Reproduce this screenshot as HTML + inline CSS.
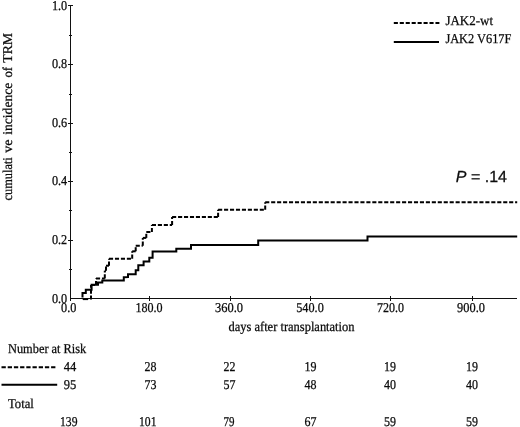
<!DOCTYPE html>
<html><head><meta charset="utf-8">
<style>
html,body{margin:0;padding:0;background:#fff;}
body{width:520px;height:427px;overflow:hidden;font-family:"Liberation Serif",serif;}
svg{display:block;will-change:transform;}
text{text-rendering:geometricPrecision;font-family:"Liberation Serif",serif;font-size:13.5px;fill:#0a0a0a;stroke:#0a0a0a;stroke-width:0.25px;}
.ax{stroke:#111;stroke-width:1;fill:none;shape-rendering:crispEdges;}
.cv{stroke:#000;stroke-width:2;fill:none;stroke-linejoin:miter;stroke-linecap:butt;}
.ds{stroke-dasharray:4.1 1.85;}
</style></head><body>
<svg width="520" height="427" viewBox="0 0 520 427">
<rect width="520" height="427" fill="#fff"/>
<!-- axes -->
<path class="ax" d="M70.5 5 V301 M70 298.5 H517"/>
<!-- y ticks major -->
<path class="ax" d="M68 5.5H73 M68 64.5H73 M68 123.5H73 M68 181.5H73 M68 240.5H73"/>
<path class="ax" d="M69 35.5H72 M69 94.5H72 M69 152.5H72 M69 210.5H72 M69 269.5H72"/>
<!-- x ticks -->
<path class="ax" d="M149.5 296V301 M230.5 296V301 M310.5 296V301 M390.5 296V301 M472.5 296V301"/>
<!-- y labels -->
<g text-anchor="end">
<text x="67.2" y="9.7" textLength="15.3" lengthAdjust="spacingAndGlyphs">1.0</text>
<text x="67.2" y="68.2" textLength="15.3" lengthAdjust="spacingAndGlyphs">0.8</text>
<text x="67.2" y="126.7" textLength="15.3" lengthAdjust="spacingAndGlyphs">0.6</text>
<text x="67.2" y="184.7" textLength="15.3" lengthAdjust="spacingAndGlyphs">0.4</text>
<text x="67.2" y="243.7" textLength="15.3" lengthAdjust="spacingAndGlyphs">0.2</text>
<text x="67.2" y="303.1" textLength="15.3" lengthAdjust="spacingAndGlyphs">0.0</text>
</g>
<!-- x labels -->
<g text-anchor="middle">
<text x="68.7" y="312.2" textLength="15.3" lengthAdjust="spacingAndGlyphs">0.0</text>
<text x="149" y="312.2" textLength="27.2" lengthAdjust="spacingAndGlyphs">180.0</text>
<text x="229" y="312.2" textLength="28" lengthAdjust="spacingAndGlyphs">360.0</text>
<text x="310" y="312.2" textLength="27.5" lengthAdjust="spacingAndGlyphs">540.0</text>
<text x="390.5" y="312.2" textLength="27" lengthAdjust="spacingAndGlyphs">720.0</text>
<text x="471" y="312.2" textLength="27.8" lengthAdjust="spacingAndGlyphs">900.0</text>
</g>
<text x="228.5" y="331" textLength="126" lengthAdjust="spacingAndGlyphs">days after transplantation</text>
<!-- y title -->
<g style="font-size:14px">
<text transform="translate(11.5 200.5) rotate(-90)" textLength="43.3" lengthAdjust="spacingAndGlyphs">cumulati</text>
<text transform="translate(11.5 152.8) rotate(-90)" textLength="13.4" lengthAdjust="spacingAndGlyphs">ve</text>
<text transform="translate(11.5 134.7) rotate(-90)" textLength="51.9" lengthAdjust="spacingAndGlyphs">incidence</text>
<text transform="translate(11.5 77.5) rotate(-90)" textLength="10.6" lengthAdjust="spacingAndGlyphs">of</text>
<text transform="translate(11.5 62.8) rotate(-90)" textLength="29.9" lengthAdjust="spacingAndGlyphs">TRM</text>
</g>
<!-- legend -->
<path class="cv ds" d="M393.8 23H439.4"/>
<path class="cv" d="M393.8 42H439"/>
<text x="445.4" y="25" textLength="47.6" lengthAdjust="spacingAndGlyphs">JAK2-wt</text>
<text x="445.4" y="43.2" textLength="66" lengthAdjust="spacingAndGlyphs">JAK2 V617F</text>
<text x="455.8" y="181.5" style="font-family:'Liberation Sans',sans-serif;font-size:16px"><tspan font-style="italic">P</tspan> = .14</text>
<!-- curves -->
<path class="cv" d="M82.7 299.3H88.2" style="stroke-width:1.6"/>
<path class="cv ds" d="M91 299.6L91 285"/>
<path class="cv ds" d="M91 285L96 285"/>
<path class="cv ds" d="M96 285L96 278.4"/>
<path class="cv ds" d="M96 278.4L104.8 278.4"/>
<path class="cv ds" d="M104.8 278.4L104.8 270.7"/>
<path class="cv ds" d="M104.8 270.7L106 270.7"/>
<path class="cv ds" d="M106 270.7L106 265.7"/>
<path class="cv ds" d="M106 265.7L109 265.7"/>
<path class="cv ds" d="M109 265.7L109 258.7"/>
<path class="cv ds" d="M109 258.7L132.2 258.7"/>
<path class="cv ds" d="M132.2 258.7L132.2 251.3"/>
<path class="cv ds" d="M132.2 251.3L135.7 251.3"/>
<path class="cv ds" d="M135.7 251.3L135.7 245.7"/>
<path class="cv ds" d="M135.7 245.7L142.8 245.7"/>
<path class="cv ds" d="M142.8 245.7L142.8 237.9"/>
<path class="cv ds" d="M142.8 237.9L146.3 237.9"/>
<path class="cv ds" d="M146.3 237.9L146.3 232"/>
<path class="cv ds" d="M146.3 232L151.9 232"/>
<path class="cv ds" d="M151.9 232L151.9 225"/>
<path class="cv ds" d="M151.9 225L172.1 225"/>
<path class="cv ds" d="M172.1 225L172.1 216.9"/>
<path class="cv ds" d="M172.1 216.9L218.1 216.9"/>
<path class="cv ds" d="M218.1 216.9L218.1 209.7"/>
<path class="cv ds" d="M218.1 209.7L265.2 209.7"/>
<path class="cv ds" d="M265.2 209.7L265.2 202.3"/>
<path class="cv ds" d="M265.2 202.3L517.2 202.3"/>
<path class="cv" d="M82.5 297.5 L82.5 293 L85.8 293 L85.8 289.8 L91.6 289.8 L91.6 284.8 L98 284.8 L98 282.6 L102.3 282.6 L102.3 280.5 L123.8 280.5 L123.8 277.2 L128 277 L128 274.2 L135.7 274.2 L135.7 270.2 L138.3 270.2 L138.3 265.3 L143.6 265.3 L143.6 261.4 L149.3 261.4 L149.3 257.8 L152.6 257.8 L152.6 251.5 L176.3 251.5 L176.3 248.7 L191 248.7 L191 245 L258.2 245 L258.2 240.4 L367.5 240.4 L367.5 236.5 L517.2 236.5"/>
<!-- table -->
<text x="8" y="353" textLength="78.3" lengthAdjust="spacingAndGlyphs">Number at Risk</text>
<path class="cv ds" d="M1.5 367.2H55.4" style="stroke-dasharray:4.3 1.9"/>
<path class="cv" d="M1.5 384.8H57.2"/>
<text x="8" y="407.5" textLength="25.8" lengthAdjust="spacingAndGlyphs">Total</text>
<g text-anchor="middle">
<text x="70" y="371.3" textLength="12.5" lengthAdjust="spacingAndGlyphs">44</text>
<text x="150.5" y="371.3" textLength="12" lengthAdjust="spacingAndGlyphs">28</text>
<text x="229.5" y="371.3" textLength="12" lengthAdjust="spacingAndGlyphs">22</text>
<text x="310.5" y="371.3" textLength="12" lengthAdjust="spacingAndGlyphs">19</text>
<text x="390" y="371.3" textLength="12" lengthAdjust="spacingAndGlyphs">19</text>
<text x="472" y="371.3" textLength="12" lengthAdjust="spacingAndGlyphs">19</text>
<text x="70" y="389.3" textLength="12.5" lengthAdjust="spacingAndGlyphs">95</text>
<text x="150.5" y="389.3" textLength="12" lengthAdjust="spacingAndGlyphs">73</text>
<text x="229.5" y="389.3" textLength="12" lengthAdjust="spacingAndGlyphs">57</text>
<text x="310.5" y="389.3" textLength="12" lengthAdjust="spacingAndGlyphs">48</text>
<text x="390" y="389.3" textLength="12" lengthAdjust="spacingAndGlyphs">40</text>
<text x="472" y="389.3" textLength="12" lengthAdjust="spacingAndGlyphs">40</text>
<text x="68.75" y="425.7" textLength="17.5" lengthAdjust="spacingAndGlyphs">139</text>
<text x="147.75" y="425.7" textLength="17.5" lengthAdjust="spacingAndGlyphs">101</text>
<text x="229" y="425.7" textLength="11" lengthAdjust="spacingAndGlyphs">79</text>
<text x="310.5" y="425.7" textLength="12" lengthAdjust="spacingAndGlyphs">67</text>
<text x="390" y="425.7" textLength="12" lengthAdjust="spacingAndGlyphs">59</text>
<text x="472" y="425.7" textLength="12" lengthAdjust="spacingAndGlyphs">59</text>
</g>
</svg>
</body></html>
